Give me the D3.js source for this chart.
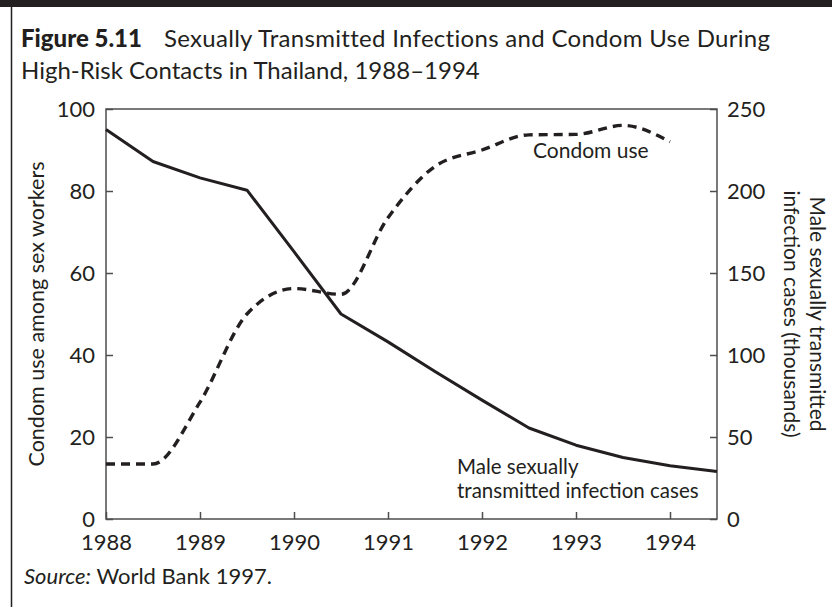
<!DOCTYPE html>
<html>
<head>
<meta charset="utf-8">
<script src="https://cdn.jsdelivr.net/npm/d3@7"></script>
<style>
  body { margin: 0; background: #fff; }
  svg text { font-family: Lato, "Open Sans", sans-serif; fill: #231f20; }
</style>
</head>
<body>
<div id="chart"></div>
<script>
// data
var years = [1988, 1988.5, 1989, 1989.5, 1990, 1990.5, 1991, 1991.5, 1992, 1992.5, 1993, 1993.5, 1994, 1994.5];
var condomUse = [13.4, 13.4, 28.5, 50, 56.2, 54.8, 73.5, 86, 90, 93.7, 93.8, 96, 92];   // percent, to 1994
var stiCases = [237.5, 218, 208, 200.5, 163, 125, 108, 90, 72.5, 55.5, 45, 37.5, 32.5, 29]; // thousands

var xTicks = [1988, 1989, 1990, 1991, 1992, 1993, 1994];
var leftTicks = [0, 20, 40, 60, 80, 100];
var rightTicks = [0, 50, 100, 150, 200, 250];

var W = 832, H = 607;
var margin = {top: 109, right: 115, bottom: 88, left: 106};
var width = W - margin.left - margin.right,
    height = H - margin.top - margin.bottom;

var svg = d3.select("#chart").append("svg")
  .attr("width", W)
  .attr("height", H);

// frame: black bar on top and a rule down the left
svg.append("rect").attr("x", 0).attr("y", 0).attr("width", W).attr("height", 7).attr("fill", "#231f20");
svg.append("line").attr("x1", 11.5).attr("x2", 11.5).attr("y1", 7).attr("y2", H)
  .attr("stroke", "#231f20").attr("stroke-width", 1.5);

// title
var title = svg.append("text").attr("x", 21).attr("y", 47).style("font-size", "24px");
title.append("tspan").style("font-weight", 900).text("Figure 5.11");
title.append("tspan").attr("dx", 22).style("letter-spacing", "0.3px")
  .text("Sexually Transmitted Infections and Condom Use During");
svg.append("text").attr("x", 21).attr("y", 79).style("font-size", "24px")
  .text("High-Risk Contacts in Thailand, 1988\u20131994");

var g = svg.append("g").attr("transform", "translate(" + margin.left + "," + margin.top + ")");

var x = d3.scaleLinear().domain([1988, 1994.5]).range([0, width]);
var yL = d3.scaleLinear().domain([0, 100]).range([height, 0]);
var yR = d3.scaleLinear().domain([0, 250]).range([height, 0]);

// axes, ticks pointing inwards
var axL = g.append("g")
  .call(d3.axisLeft(yL).tickValues(leftTicks).tickSize(-7).tickSizeOuter(0).tickPadding(11));
var axR = g.append("g").attr("transform", "translate(" + width + ",0)")
  .call(d3.axisRight(yR).tickValues(rightTicks).tickSize(-7).tickSizeOuter(0).tickPadding(10));
var axB = g.append("g").attr("transform", "translate(0," + height + ")")
  .call(d3.axisBottom(x).tickValues(xTicks).tickFormat(d3.format("d")).tickSize(-7).tickSizeOuter(0).tickPadding(15));

[axL, axR, axB].forEach(function (a) {
  a.select(".domain").remove();
  a.selectAll(".tick line").attr("stroke", "#4d4d4f").attr("stroke-width", 1.5);
  a.selectAll(".tick text").style("font-size", "22px").style("font-family", "Lato, sans-serif").attr("fill", "#231f20");
});

// box around the plot
g.append("rect").attr("x", 0).attr("y", 0).attr("width", width).attr("height", height)
  .attr("fill", "none").attr("stroke", "#4d4d4f").attr("stroke-width", 1.5);

// axis titles
svg.append("text")
  .attr("transform", "translate(44," + (margin.top + height / 2) + ") rotate(-90)")
  .attr("text-anchor", "middle").style("font-size", "21.5px")
  .text("Condom use among sex workers");

var rt = svg.append("text")
  .attr("transform", "translate(810," + (margin.top + height / 2) + ") rotate(90)")
  .attr("text-anchor", "middle").style("font-size", "21px");
rt.append("tspan").attr("x", 0).attr("y", 0).text("Male sexually transmitted");
rt.append("tspan").attr("x", 0).attr("y", 26).text("infection cases (thousands)");

// lines
var condomLine = d3.line()
  .x(function (d, i) { return x(years[i]); })
  .y(function (d) { return yL(d); })
  .curve(d3.curveMonotoneX);

var stiLine = d3.line()
  .x(function (d, i) { return x(years[i]); })
  .y(function (d) { return yR(d); });

g.append("path").datum(stiCases)
  .attr("d", stiLine)
  .attr("fill", "none").attr("stroke", "#231f20").attr("stroke-width", 3)
  .attr("stroke-linejoin", "round");

g.append("path").datum(condomUse)
  .attr("d", condomLine)
  .attr("fill", "none").attr("stroke", "#231f20").attr("stroke-width", 3.4)
  .attr("stroke-dasharray", "9,6");

// line labels
svg.append("text").attr("x", 533).attr("y", 158).style("font-size", "21px").text("Condom use");
svg.append("text").attr("x", 457).attr("y", 474).style("font-size", "20.5px").text("Male sexually");
svg.append("text").attr("x", 457).attr("y", 498).style("font-size", "20.5px").text("transmitted infection cases");

// source
var src = svg.append("text").attr("x", 24).attr("y", 584).style("font-size", "22px");
src.append("tspan").style("font-style", "italic").text("Source:");
src.append("tspan").text(" World Bank 1997.");
</script>
</body>
</html>
